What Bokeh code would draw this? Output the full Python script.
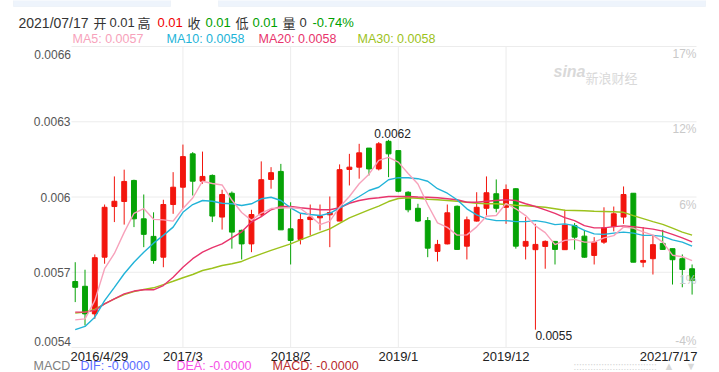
import numpy as np
from bokeh.plotting import figure
from bokeh.models import Range1d, FixedTicker, Label, BoxAnnotation, ColumnDataSource, LinearAxis
from bokeh.embed import file_html
from bokeh.resources import INLINE

# ---------------- data (monthly candles 2016/4 .. 2021/7) ----------------
months = [f"{y}/{m}" for y in range(2016, 2022) for m in range(1, 13)]
months = months[months.index("2016/4"):months.index("2021/7") + 1]

open_ = [0.005663, 0.005644, 0.005534, 0.005760, 0.005962, 0.005982, 0.006066, 0.005913, 0.005843, 0.005760,
         0.005970, 0.006039, 0.006172, 0.006063, 0.006086, 0.005920, 0.006015, 0.005867, 0.005813, 0.005929,
         0.006070, 0.006102, 0.005873, 0.005831, 0.005910, 0.005917, 0.005929, 0.005904, 0.006110, 0.006119,
         0.006195, 0.006112, 0.006222, 0.006185, 0.006019, 0.005955, 0.005906, 0.005783, 0.005813, 0.005963,
         0.005804, 0.005904, 0.005955, 0.006013, 0.005959, 0.006033, 0.005804, 0.005790, 0.005803, 0.005823,
         0.005790, 0.005886, 0.005844, 0.005767, 0.005820, 0.005882, 0.005920, 0.006015, 0.005740, 0.005754,
         0.005815, 0.005794, 0.005754, 0.005714]
high = [0.005740, 0.005710, 0.005771, 0.005970, 0.006082, 0.006109, 0.006069, 0.006010, 0.005939, 0.005989,
        0.006099, 0.006209, 0.006179, 0.006181, 0.006090, 0.006029, 0.006022, 0.005870, 0.005949, 0.006142,
        0.006119, 0.006132, 0.005979, 0.005933, 0.005970, 0.005970, 0.006002, 0.006130, 0.006172, 0.006212,
        0.006195, 0.006219, 0.006228, 0.006185, 0.006023, 0.005973, 0.005920, 0.005829, 0.005970, 0.005966,
        0.005922, 0.006019, 0.006082, 0.006070, 0.006050, 0.006035, 0.005920, 0.005893, 0.005827, 0.005824,
        0.005949, 0.005896, 0.005869, 0.005840, 0.005959, 0.005962, 0.006042, 0.006015, 0.005880, 0.005847,
        0.005869, 0.005794, 0.005771, 0.005731]
low = [0.005581, 0.005488, 0.005514, 0.005734, 0.005900, 0.005890, 0.005880, 0.005800, 0.005734, 0.005720,
       0.005933, 0.005953, 0.006006, 0.006053, 0.005900, 0.005870, 0.005794, 0.005751, 0.005780, 0.005920,
       0.006033, 0.005869, 0.005731, 0.005811, 0.005847, 0.005867, 0.005800, 0.005904, 0.006046, 0.006073,
       0.006086, 0.006106, 0.006079, 0.006019, 0.005939, 0.005900, 0.005760, 0.005743, 0.005811, 0.005790,
       0.005751, 0.005902, 0.005926, 0.005939, 0.005893, 0.005794, 0.005751, 0.005471, 0.005714, 0.005731,
       0.005790, 0.005790, 0.005758, 0.005731, 0.005813, 0.005863, 0.005893, 0.005740, 0.005720, 0.005691,
       0.005790, 0.005651, 0.005640, 0.005611]
close = [0.005640, 0.005534, 0.005758, 0.005959, 0.005983, 0.006062, 0.005913, 0.005851, 0.005747, 0.005970,
         0.006039, 0.006161, 0.006063, 0.006082, 0.005924, 0.006010, 0.005860, 0.005813, 0.005930, 0.006069,
         0.006097, 0.005869, 0.005827, 0.005910, 0.005920, 0.005924, 0.005938, 0.006109, 0.006119, 0.006176,
         0.006112, 0.006212, 0.006172, 0.006023, 0.005949, 0.005904, 0.005796, 0.005811, 0.005937, 0.005791,
         0.005909, 0.005959, 0.006017, 0.005955, 0.006030, 0.005804, 0.005823, 0.005811, 0.005823, 0.005791,
         0.005888, 0.005840, 0.005760, 0.005820, 0.005877, 0.005933, 0.006010, 0.005740, 0.005747, 0.005810,
         0.005791, 0.005750, 0.005711, 0.005667]

ma5 = [0.005510, 0.005514, 0.005587, 0.005714, 0.005775, 0.005859, 0.005935, 0.005954, 0.005911, 0.005909,
       0.005904, 0.005954, 0.005996, 0.006063, 0.006054, 0.006048, 0.005988, 0.005938, 0.005907, 0.005936,
       0.005954, 0.005956, 0.005958, 0.005954, 0.005925, 0.005890, 0.005904, 0.005960, 0.006002, 0.006053,
       0.006091, 0.006146, 0.006158, 0.006139, 0.006094, 0.006052, 0.005969, 0.005897, 0.005879, 0.005848,
       0.005849, 0.005881, 0.005923, 0.005926, 0.005974, 0.005953, 0.005926, 0.005885, 0.005858, 0.005810,
       0.005827, 0.005831, 0.005820, 0.005820, 0.005837, 0.005846, 0.005880, 0.005876, 0.005861, 0.005848,
       0.005820, 0.005768, 0.005762, 0.005746]
ma10 = [0.005471, 0.005484, 0.005521, 0.005587, 0.005640, 0.005694, 0.005740, 0.005780, 0.005816, 0.005847,
        0.005880, 0.005939, 0.005970, 0.005986, 0.005983, 0.005975, 0.005973, 0.005966, 0.005973, 0.005993,
        0.005999, 0.005986, 0.005957, 0.005935, 0.005930, 0.005926, 0.005935, 0.005957, 0.005979, 0.006002,
        0.006026, 0.006039, 0.006069, 0.006077, 0.006077, 0.006073, 0.006063, 0.006033, 0.006015, 0.005989,
        0.005953, 0.005929, 0.005913, 0.005906, 0.005906, 0.005902, 0.005902, 0.005906, 0.005900, 0.005890,
        0.005893, 0.005886, 0.005867, 0.005853, 0.005851, 0.005856, 0.005860, 0.005856, 0.005847, 0.005847,
        0.005843, 0.005829, 0.005820, 0.005804]
ma20 = [0.005541, 0.005541, 0.005548, 0.005574, 0.005594, 0.005614, 0.005625, 0.005630, 0.005630, 0.005647,
        0.005680, 0.005720, 0.005754, 0.005780, 0.005798, 0.005813, 0.005837, 0.005861, 0.005900, 0.005922,
        0.005949, 0.005962, 0.005962, 0.005957, 0.005953, 0.005949, 0.005949, 0.005957, 0.005975, 0.005986,
        0.005993, 0.005997, 0.006002, 0.006002, 0.006002, 0.006000, 0.005999, 0.005997, 0.005993, 0.005989,
        0.005979, 0.005979, 0.005983, 0.005986, 0.005989, 0.005986, 0.005973, 0.005962, 0.005949, 0.005935,
        0.005918, 0.005906, 0.005886, 0.005877, 0.005877, 0.005882, 0.005885, 0.005882, 0.005877, 0.005872,
        0.005864, 0.005851, 0.005837, 0.005821]
ma30 = [0.005537, 0.005541, 0.005552, 0.005574, 0.005594, 0.005611, 0.005623, 0.005631, 0.005638, 0.005651,
        0.005664, 0.005678, 0.005691, 0.005707, 0.005716, 0.005727, 0.005734, 0.005743, 0.005759, 0.005773,
        0.005787, 0.005800, 0.005813, 0.005829, 0.005844, 0.005859, 0.005873, 0.005895, 0.005917, 0.005933,
        0.005949, 0.005964, 0.005982, 0.005994, 0.005997, 0.005995, 0.005991, 0.005989, 0.005986, 0.005983,
        0.005979, 0.005975, 0.005973, 0.005973, 0.005970, 0.005967, 0.005965, 0.005962, 0.005959, 0.005953,
        0.005947, 0.005946, 0.005945, 0.005943, 0.005942, 0.005941, 0.005939, 0.005926, 0.005914, 0.005902,
        0.005891, 0.005876, 0.005860, 0.005848]

y_ticks = [0.0054, 0.0057, 0.0060, 0.0063, 0.0066]
y_tick_labels = ["0.0054", "0.0057", "0.006", "0.0063", "0.0066"]
pct_labels = ["-4%", "1%", "6%", "12%", "17%"]
x_tick_months = ["2016/4", "2017/3", "2018/2", "2019/1", "2019/12", "2021/7"]
x_tick_labels = ["2016/4/29", "2017/3", "2018/2", "2019/1", "2019/12", "2021/7/17"]

header_date = "2021/07/17"
header_volume = "0"
header_change = "-0.74%"
macd_names = ["DIF", "DEA", "MACD"]
macd_vals = ["-0.0000", "-0.0000", "-0.0000"]

# ---------------- layout: the frame fills the canvas; the price area is 71..696 x 46..347 ----------------
W, H = 719, 372
PL, PR, PT, PB = 71, 696, 46, 347          # price-area edges in pixels
XL, XRt = -0.38, 63.45                      # x data at PL / PR
YB, YT = 0.0054, 0.0066                     # y data at PB / PT
KX = (PR - PL) / (XRt - XL)
KY = (PB - PT) / (YT - YB)

def X(px):
    return XL + (px - PL) / KX

def Y(py):
    return YT - (py - PT) / KY

PXY = 1.0 / KY
FONT = "Liberation Sans"
CJK = "Noto Sans CJK SC"
UP, DOWN = "#f2150d", "#06a306"
C5, C10, C20, C30 = "#f7a2bb", "#22b3d8", "#e8346c", "#9cc21c"
GRID = "#ececec"

p = figure(width=W, height=H, x_range=Range1d(X(0), X(W)), y_range=Range1d(Y(H), Y(0)),
           output_backend="svg", toolbar_location=None,
           x_axis_location=None, y_axis_location=None,
           min_border_left=0, min_border_right=0, min_border_top=0, min_border_bottom=0)
p.outline_line_color = None
p.background_fill_color = "white"
p.border_fill_color = "white"
p.xgrid.visible = False
p.ygrid.visible = False

idx = list(range(len(months)))
colors = [UP if c > o else DOWN for o, c in zip(open_, close)]
src = ColumnDataSource(dict(
    x=idx, open=open_, high=high, low=low, close=close, color=colors,
    top=[max(o, c) for o, c in zip(open_, close)],
    bottom=[min(o, c) for o, c in zip(open_, close)],
))
tick_idx = [months.index(m) for m in x_tick_months]
mid_idx = tick_idx[1:-1]

# grid lines at the tick positions, limited to the price area
p.segment(x0=[X(PL)] * len(y_ticks), y0=y_ticks, x1=[X(PR)] * len(y_ticks), y1=y_ticks,
          line_color=GRID, line_width=1)
p.segment(x0=mid_idx, y0=[Y(PT)] * len(mid_idx), x1=mid_idx, y1=[Y(PB)] * len(mid_idx),
          line_color=GRID, line_width=1)

# axes fixed at the price-area edges
xaxis = LinearAxis(fixed_location=Y(PB), ticker=FixedTicker(ticks=mid_idx),
                   major_label_overrides={i: lab for i, lab in zip(mid_idx, x_tick_labels[1:-1])})
yaxis = LinearAxis(fixed_location=X(PL), ticker=FixedTicker(ticks=y_ticks[1:-1]),
                   major_label_overrides={v: lab for v, lab in zip(y_ticks[1:-1], y_tick_labels[1:-1])})
for ax in (xaxis, yaxis):
    ax.axis_line_color = None
    ax.major_tick_line_color = None
    ax.minor_tick_line_color = None
    ax.major_tick_out = 0
    ax.major_tick_in = 0
    ax.minor_tick_out = 0
    ax.minor_tick_in = 0
    ax.major_label_text_font = FONT
xaxis.major_label_text_font_size = "13px"
xaxis.major_label_text_color = "#222222"
xaxis.major_label_standoff = 1
yaxis.major_label_text_font_size = "12px"
yaxis.major_label_text_color = "#555555"
yaxis.major_label_standoff = 1
p.add_layout(xaxis, "below")
p.add_layout(yaxis, "left")

# candles
p.segment(x0="x", y0="low", x1="x", y1="high", line_color="color", line_width=1, source=src)
p.vbar(x="x", width=0.5, top="top", bottom="bottom", fill_color="color", line_color="color",
       line_width=1, source=src)

# moving averages
for ys, col in ((ma30, C30), (ma20, C20), (ma10, C10), (ma5, C5)):
    p.line(idx, ys, line_color=col, line_width=1.4)

def lab(text, x, y, color, size="13px", align="left", baseline="middle", font=FONT, style="normal"):
    p.add_layout(Label(x=x, y=y, text=text, text_color=color, text_font_size=size,
                       text_align=align, text_baseline=baseline, text_font=font,
                       text_font_style=style))

# top tab strip
p.add_layout(BoxAnnotation(left=X(13), right=X(170), top=Y(-2), bottom=Y(6),
                           fill_color="#eef4fc", fill_alpha=1, line_color="#dbe5f3", line_width=1))
p.add_layout(BoxAnnotation(left=X(218), right=X(705), top=Y(-2), bottom=Y(6),
                           fill_color="#eef4fc", fill_alpha=1, line_color="#dbe5f3", line_width=1))

# header line
TXT, RED, GREEN = "#333333", "#f00000", "#00a000"
fmt = lambda v: f"{v:.2f}"
header = [
    (header_date, 18, TXT, FONT), ("开", 93, TXT, CJK), (fmt(open_[-1]), 109, TXT, FONT),
    ("高", 137, TXT, CJK), (fmt(high[-1]), 157, RED, FONT),
    ("收", 187, TXT, CJK), (fmt(close[-1]), 205, GREEN, FONT),
    ("低", 235, TXT, CJK), (fmt(low[-1]), 252, GREEN, FONT),
    ("量", 282, TXT, CJK), (header_volume, 299, TXT, FONT), (header_change, 312, GREEN, FONT),
]
for t, px, col, f in header:
    sz = "14px" if t == header_date else "13px"
    lab(t, X(px), Y(22), col, size=sz, font=f)

# MA legend
for t, px, col in ((f"MA5: {ma5[-1]:.4f}", 72, C5), (f"MA10: {ma10[-1]:.4f}", 166, C10),
                   (f"MA20: {ma20[-1]:.4f}", 258, C20), (f"MA30: {ma30[-1]:.4f}", 357, C30)):
    lab(t, X(px), Y(38), col, size="12.5px")

# edge tick labels (left price axis ends, right pct axis, x ends)
lab(y_tick_labels[-1], X(70.5), y_ticks[-1] - 8 * PXY, "#555555", size="12px", align="right")
lab(y_tick_labels[0], X(70.5), y_ticks[0] + 6.5 * PXY, "#555555", size="12px", align="right")
for v, t in zip(y_ticks, pct_labels):
    off = 6.5 if v == y_ticks[0] else -7.5
    lab(t, X(696), v + off * PXY, "#c9c9c9", size="12px", align="right")
lab(x_tick_labels[0], X(70), Y(355.5), "#222222", size="13px", align="left")
lab(x_tick_labels[-1], X(697), Y(355.5), "#222222", size="13px", align="right")

# max / min markers
imax = int(np.argmax(high))
imin = int(np.argmin(low))
lab(f"{high[imax]:.4f}", imax + 4 / KX, high[imax] + 1.5 * PXY,
    "#222222", size="12px", align="center", baseline="bottom")
lab(f"{low[imin]:.4f}", imin, low[imin] - 1.0 * PXY, "#222222", size="12px", align="left", baseline="top")

# watermark
lab("sina", X(553), Y(71), "#d9d9d9", size="16px", style="bold italic")
lab("新浪财经", X(585), Y(77), "#d9d9d9", size="13px", font=CJK)

# MACD line
lab("MACD", X(33), Y(365.5), "#808080", size="12.5px")
for (n, v), px, col in zip(zip(macd_names, macd_vals), (80, 176, 272), ("#5a6cff", "#f650e6", "#b82a2c")):
    lab(f"{n}: {v}", X(px), Y(365.5), col, size="12.5px")

# bottom right controls
lab(":" * 30, X(573), Y(366), "#d4d4d4", size="10px")
lab("▲", X(663), Y(365), "#d8d8d8", size="11px")
lab("▼", X(685), Y(365), "#d8d8d8", size="11px")

open("out.html", "w").write(file_html(p, INLINE))
